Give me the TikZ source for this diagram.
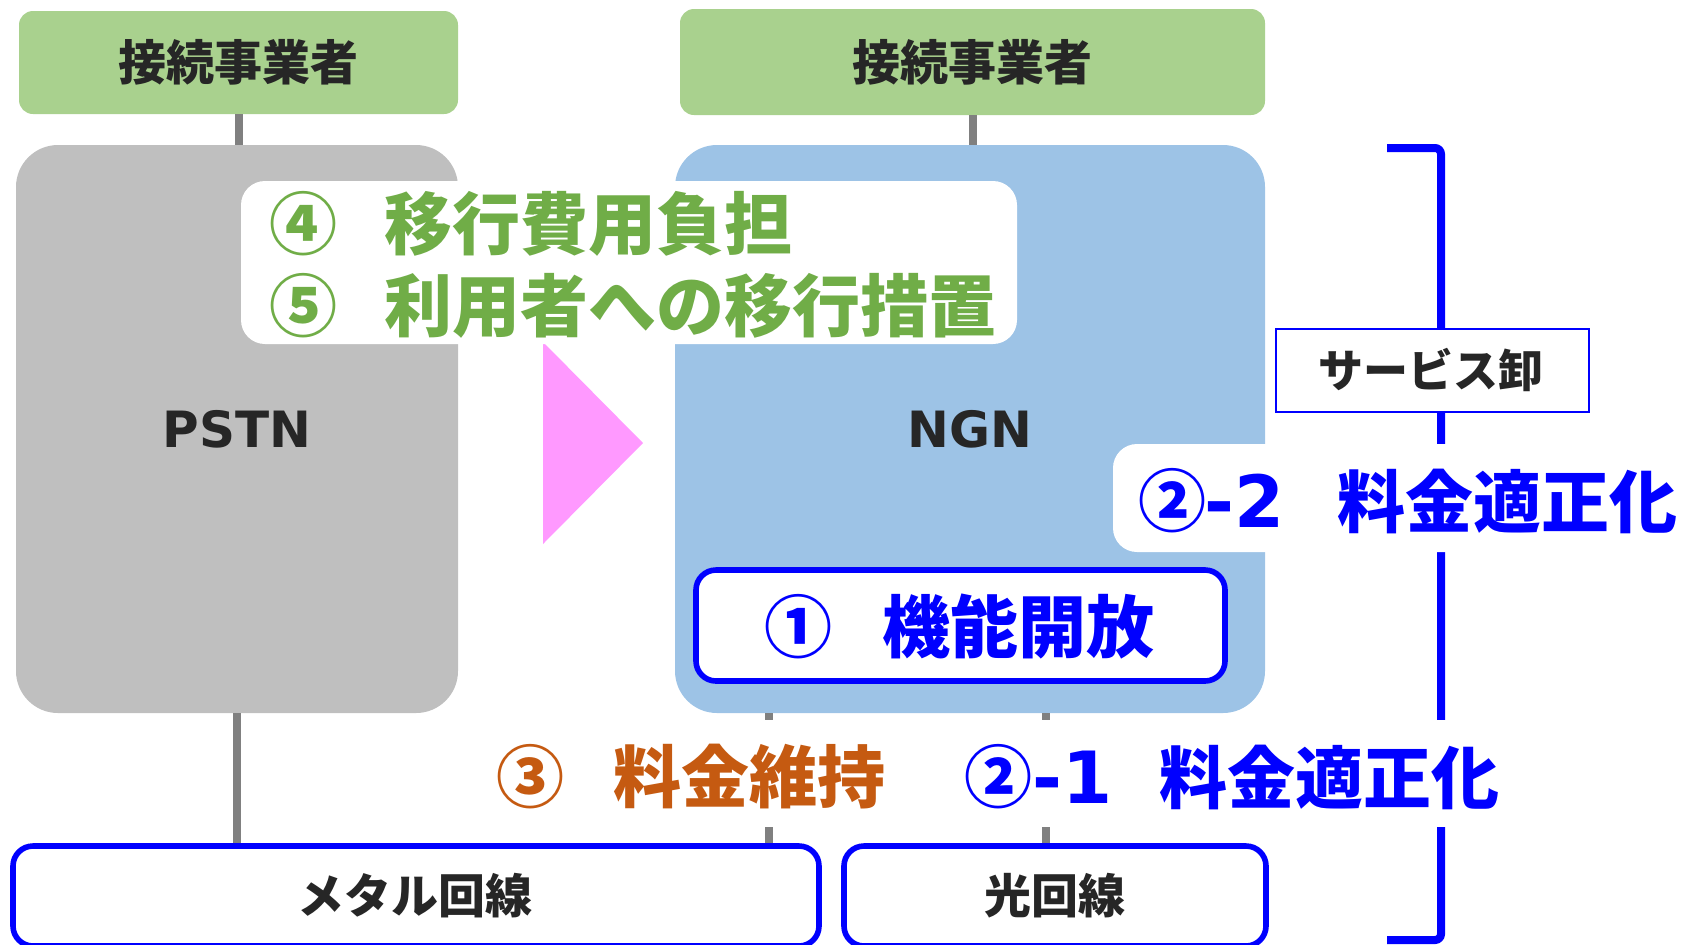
\documentclass[tikz,border=0pt]{standalone}
\usepackage{fontspec}
\setmainfont{Noto Sans CJK JP}
\newfontfamily\lat{DejaVu Sans}
\definecolor{hdrgreen}{HTML}{A9D18E}
\definecolor{pstngray}{HTML}{BFBFBF}
\definecolor{ngnblue}{HTML}{9DC3E6}
\definecolor{conngray}{HTML}{808080}
\definecolor{myblue}{HTML}{0000FF}
\definecolor{txtgreen}{HTML}{70AD47}
\definecolor{txtorange}{HTML}{C55A11}
\definecolor{darktxt}{HTML}{262626}
\definecolor{pinktri}{HTML}{FF99FF}
\begin{document}
\begin{tikzpicture}[x=0.5pt,y=-0.5pt,
  hdr/.style={fill=hdrgreen, rounded corners=7pt, text=darktxt, inner sep=0pt,
    font=\bfseries\fontsize{24}{28}\selectfont},
  bigbox/.style={rounded corners=21pt, inner sep=0pt, text=darktxt,
    font=\lat\bfseries\fontsize{25}{30}\selectfont},
  conn/.style={draw=conngray, line width=4pt},
  bluebox/.style={draw=myblue, line width=2.8pt, fill=white, rounded corners=10pt, inner sep=0pt},
  whitebox/.style={fill=white, rounded corners=12pt, inner sep=0pt},
  bigtxt/.style={font=\bfseries\fontsize{34}{40}\selectfont, inner sep=0pt},
  midtxt/.style={font=\bfseries\fontsize{23.5}{28}\selectfont, inner sep=0pt, text=darktxt}]
\useasboundingbox (0,0) rectangle (1686,944);

% headers
\node[hdr, minimum width=219.5pt, minimum height=51.5pt] (hdrL) at (238.5,62.5) {接続事業者};
\node[hdr, minimum width=292.5pt, minimum height=53pt] (hdrR) at (972.5,62) {接続事業者};

% main boxes
\node[bigbox, fill=pstngray, minimum width=221pt, minimum height=284pt] (pstn) at (237,429) {PSTN};
\node[bigbox, fill=ngnblue, minimum width=295pt, minimum height=284pt] (ngn) at (970,429) {NGN};

\draw[conn] (hdrL.south) -- (pstn.north -| hdrL.south);
\draw[conn] (hdrR.south) -- (ngn.north -| hdrR.south);

% bottom line boxes
\node[bluebox, minimum width=403pt, minimum height=50pt] (metal) at (416,896) {};
\node[midtxt] (metaltxt) at (415,896) {メタル回線};
\node[bluebox, minimum width=211pt, minimum height=50pt] (hikari) at (1055,896) {};
\node[midtxt] (hikaritxt) at (1055,896) {光回線};

% connectors to line boxes
\coordinate (c1) at (769,0);
\coordinate (c2) at (1046,0);
\draw[conn] (pstn.south) -- (metal.north -| pstn.south);
\draw[conn] (ngn.south -| c1) -- (metal.north -| c1);
\draw[conn] (ngn.south -| c2) -- (hikari.north -| c2);

% pink arrow
\fill[pinktri] (543,342) -- (643,443) -- (543,544) -- cycle;

% bracket
\draw[myblue, line width=4pt, rounded corners=3pt] (1387,148) -- (1441,148) -- (1441,940) -- (1387,940);

% white box 4/5
\node[whitebox, minimum width=388pt, minimum height=81.5pt] (wb45) at (629,262.5) {};
\node[bigtxt, text=txtgreen] (n4) at (303,224) {④};
\node[bigtxt, text=txtgreen, anchor=west] (t4) at (384,224) {移行費用負担};
\node[bigtxt, text=txtgreen] (n5) at (303,306) {⑤};
\node[bigtxt, text=txtgreen, anchor=west] (t5) at (384,306) {利用者への移行措置};

% service box
\node[draw=myblue, line width=1pt, fill=white, inner sep=0pt, minimum width=156.5pt, minimum height=41.5pt] (svc) at (1432.5,370.5) {};
\node[font=\bfseries\fontsize{22.5}{27}\selectfont, text=darktxt, inner sep=0pt] (svctxt) at (1431,370) {サービス卸};

% 2-2 box
\node[whitebox, minimum width=308.5pt, minimum height=54pt] (wb22) at (1421.5,498) {};
\node[bigtxt, text=myblue] (n22) at (1172,501) {②};
\node[bigtxt, text=myblue, anchor=west, font=\lat\bfseries\fontsize{36}{42}\selectfont] (d22) at (1204,501) {-2};
\node[bigtxt, text=myblue, anchor=west] (t22) at (1337,501) {料金適正化};

% 1 box
\node[bluebox, minimum width=264.5pt, minimum height=55.5pt] (b1) at (960.5,625.5) {};
\node[bigtxt, text=myblue] (n1) at (798,627) {①};
\node[bigtxt, text=myblue, anchor=west] (t1) at (882,627) {機能開放};

% row 3 white strip
\node[fill=white, inner sep=0pt, minimum width=510pt, minimum height=53.5pt] (row3) at (1000,773.5) {};
\node[bigtxt, text=txtorange] (n3) at (530,777) {③};
\node[bigtxt, text=txtorange, anchor=west] (t3) at (613,777) {料金維持};
\node[bigtxt, text=myblue] (n21) at (998,777) {②};
\node[bigtxt, text=myblue, anchor=west, font=\lat\bfseries\fontsize{36}{42}\selectfont] (d21) at (1032,777) {-1};
\node[bigtxt, text=myblue, anchor=west] (t21) at (1159,777) {料金適正化};
\end{tikzpicture}
\end{document}
